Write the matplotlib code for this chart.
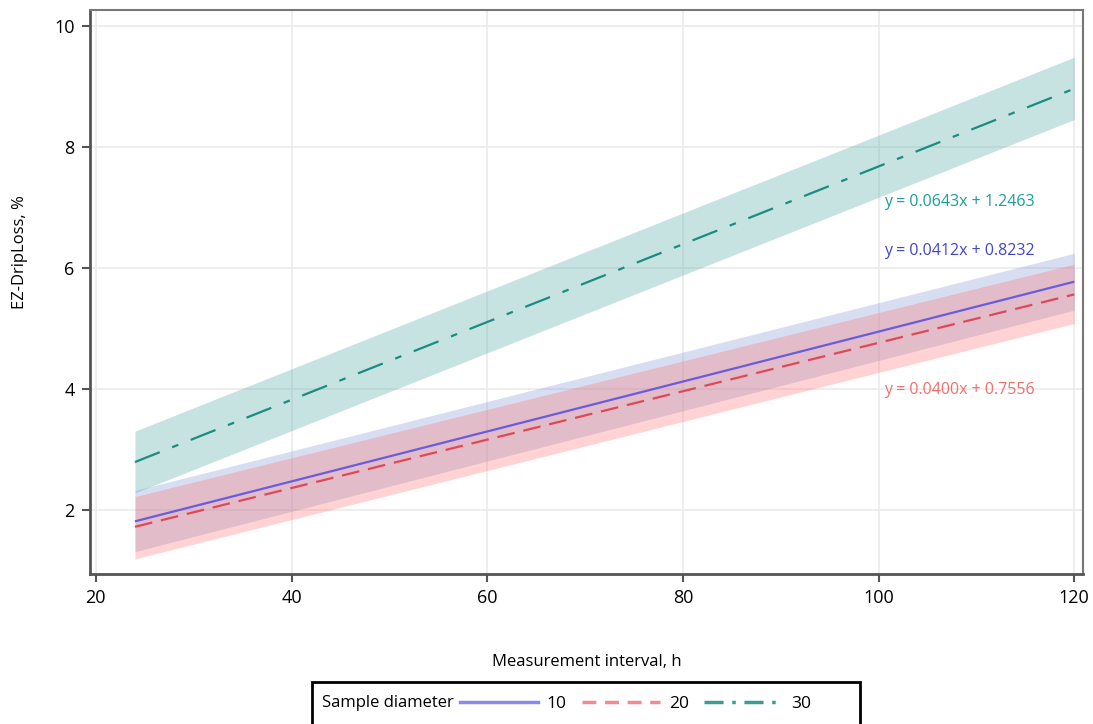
import matplotlib
matplotlib.use("Agg")
import matplotlib.pyplot as plt
from matplotlib.lines import Line2D
from matplotlib.patches import Rectangle

plt.rcParams['font.family'] = ['Open Sans', 'DejaVu Sans']

# fitted lines (end points) and confidence bands
x_fit = [24, 120]

y10 = [1.81, 5.77]
lo10 = [1.31, 5.30]
hi10 = [2.32, 6.24]

y20 = [1.72, 5.56]
lo20 = [1.19, 5.08]
hi20 = [2.22, 6.06]

y30 = [2.79, 8.96]
lo30 = [2.28, 8.45]
hi30 = [3.30, 9.48]

labels = ['10', '20', '30']
equations = ['y = 0.0412x + 0.8232', 'y = 0.0400x + 0.7556', 'y = 0.0643x + 1.2463']

x_ticks = [20, 40, 60, 80, 100, 120]
y_ticks = [2, 4, 6, 8, 10]

c10, c20, c30 = '#6a5cdc', '#e04858', '#1b8c80'

fig = plt.figure(figsize=(10.93, 7.24), dpi=100)
ax = fig.add_axes([0.0823, 0.2072, 0.9086, 0.779])

# bands
ax.fill_between(x_fit, lo30, hi30, color='#5cb1aa', alpha=0.35, lw=0)
ax.fill_between(x_fit, lo10, hi10, color='#7b93d6', alpha=0.3, lw=0)
ax.fill_between(x_fit, lo20, hi20, color='#ff6f6f', alpha=0.3, lw=0)

# lines
l10, = ax.plot(x_fit, y10, color=c10, lw=1.6, solid_capstyle='butt')
l20, = ax.plot(x_fit, y20, color=c20, lw=1.6, dashes=(8, 4))
l30, = ax.plot(x_fit, y30, color=c30, lw=1.6, dashes=(12, 6, 3, 6))

# equations
ax.text(100.6, 7.08, equations[2], color='#1a9e9e', fontsize=11.5, va='center')
ax.text(100.6, 6.27, equations[0], color='#4444cc', fontsize=11.5, va='center')
ax.text(100.6, 3.98, equations[1], color='#f07070', fontsize=11.5, va='center')

ax.set_xlim(19.4, 120.9)
ax.set_ylim(0.94, 10.26)
ax.set_xticks(x_ticks)
ax.set_yticks(y_ticks)
ax.grid(True, color='#ebebeb', lw=1.2)
ax.set_axisbelow(True)
ax.tick_params(direction='out', length=6, width=1.5, color='#555555', labelsize=13, pad=5)
for side in ['left', 'bottom']:
    ax.spines[side].set_linewidth(2)
    ax.spines[side].set_color('#555555')
for side in ['top', 'right']:
    ax.spines[side].set_linewidth(1.5)
    ax.spines[side].set_color('#777777')

ax.set_xlabel('Measurement interval, h', fontsize=12)
ax.xaxis.set_label_coords(0.5, -0.142)
ax.set_ylabel('EZ-DripLoss, %', fontsize=12)
ax.yaxis.set_label_coords(-0.062, 0.57)

# legend box at bottom
fig.patches.append(Rectangle((312 / 1093, -0.01), (860 - 312) / 1093, (724 - 682) / 724 + 0.01,
                             transform=fig.transFigure, fill=False, ec='black', lw=2))
fig.text(322 / 1093, 1 - 703 / 724, 'Sample diameter', fontsize=12, va='center')
h10 = Line2D([], [], color='#8f86ea', lw=2.5)
h20 = Line2D([], [], color='#ef8a92', lw=2.5, dashes=(4, 2.5))
h30 = Line2D([], [], color='#3c9c90', lw=2.5, dashes=(5.5, 2.5, 1, 2.5))
fig.legend([h10, h20, h30], labels, ncol=3, frameon=False, fontsize=12.5,
           loc='center left', bbox_to_anchor=(444 / 1093, 1 - 704 / 724),
           handlelength=4.5, columnspacing=0.9, handletextpad=0.5)

fig.savefig('out.png', dpi=100)
